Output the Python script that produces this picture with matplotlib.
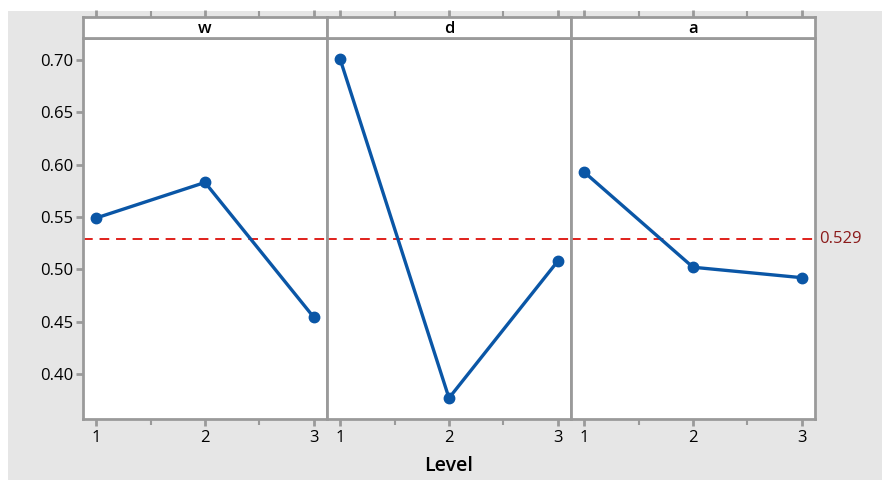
import matplotlib.pyplot as plt

factors = ["w", "d", "a"]
levels = [1, 2, 3]
means = {
    "w": [0.549, 0.583, 0.454],
    "d": [0.701, 0.377, 0.508],
    "a": [0.593, 0.502, 0.492],
}
grand_mean = 0.529
yticks = [0.40, 0.45, 0.50, 0.55, 0.60, 0.65, 0.70]

plt.rcParams['font.family'] = ['Open Sans', 'DejaVu Sans']

W, H = 882, 480
fig = plt.figure(figsize=(W / 100, H / 100), dpi=100, facecolor="white")
bg = fig.add_axes([8 / W, -0.02, 1.02 - 8 / W, 1.02 - 11 / H], zorder=-10)
bg.set_facecolor("#e6e6e6")
bg.set_xticks([])
bg.set_yticks([])
for s in bg.spines.values():
    s.set_visible(False)

spine_c = "#9a9a9a"
line_c = "#0a56a6"
panel_left = [83, 327, 571]
panel_w = 244
plot_top, plot_bot, head_top = 38, 419, 17
xlim = (0.88, 3.12)
ylim = (0.357, 0.721)

for i, f in enumerate(factors):
    x0 = panel_left[i]
    ax = fig.add_axes([x0 / W, 1 - plot_bot / H, panel_w / W, (plot_bot - plot_top) / H])
    hx = fig.add_axes([x0 / W, 1 - plot_top / H, panel_w / W, (plot_top - head_top) / H])

    ax.plot(levels, means[f], color=line_c, lw=2.4, marker="o", ms=7.5, zorder=3)
    ax.axhline(grand_mean, color="#e0201b", lw=1.4, ls=(0, (5, 3.5)), zorder=2)
    ax.set_xlim(xlim)
    ax.set_ylim(ylim)
    ax.set_xticks(levels)
    ax.set_xticks([1.5, 2.5], minor=True)
    ax.set_yticks(yticks)
    for s in ax.spines.values():
        s.set_color(spine_c)
        s.set_linewidth(2)
    ax.tick_params(axis="x", colors=spine_c, labelcolor="black", length=5, width=2,
                   labelsize=12, pad=3)
    ax.tick_params(axis="x", which="minor", colors=spine_c, length=4, width=1.5)
    ax.tick_params(axis="y", colors=spine_c, labelcolor="black", length=5, width=2,
                   labelsize=12, pad=2)
    if i == 0:
        ax.set_yticklabels([f"{v:.2f}" for v in yticks])
    else:
        ax.tick_params(axis="y", left=False, labelleft=False)

    hx.set_xlim(xlim)
    hx.set_ylim(0, 1)
    hx.set_facecolor("white")
    hx.set_yticks([])
    hx.set_xticks(levels)
    hx.set_xticks([1.5, 2.5], minor=True)
    hx.tick_params(axis="x", bottom=False, labelbottom=False, top=True, labeltop=False,
                   colors=spine_c, length=5, width=2)
    hx.tick_params(axis="x", which="minor", bottom=False, top=True, colors=spine_c,
                   length=4, width=1.5)
    for s in hx.spines.values():
        s.set_color(spine_c)
        s.set_linewidth(2)
    hx.text(2, 0.45, f, ha="center", va="center", fontsize=12, fontweight="semibold")

    if i == 2:
        ax.text(1.015, grand_mean, f"{grand_mean:.3f}", transform=ax.get_yaxis_transform(),
                ha="left", va="center", color="#8b1a1a", fontsize=12)

fig.text((83 + 3 * panel_w / 2) / W, 1 - 466 / H, "Level", ha="center", va="center",
         fontsize=14, fontweight="semibold")

fig.savefig("out.png", dpi=100, facecolor=fig.get_facecolor())
